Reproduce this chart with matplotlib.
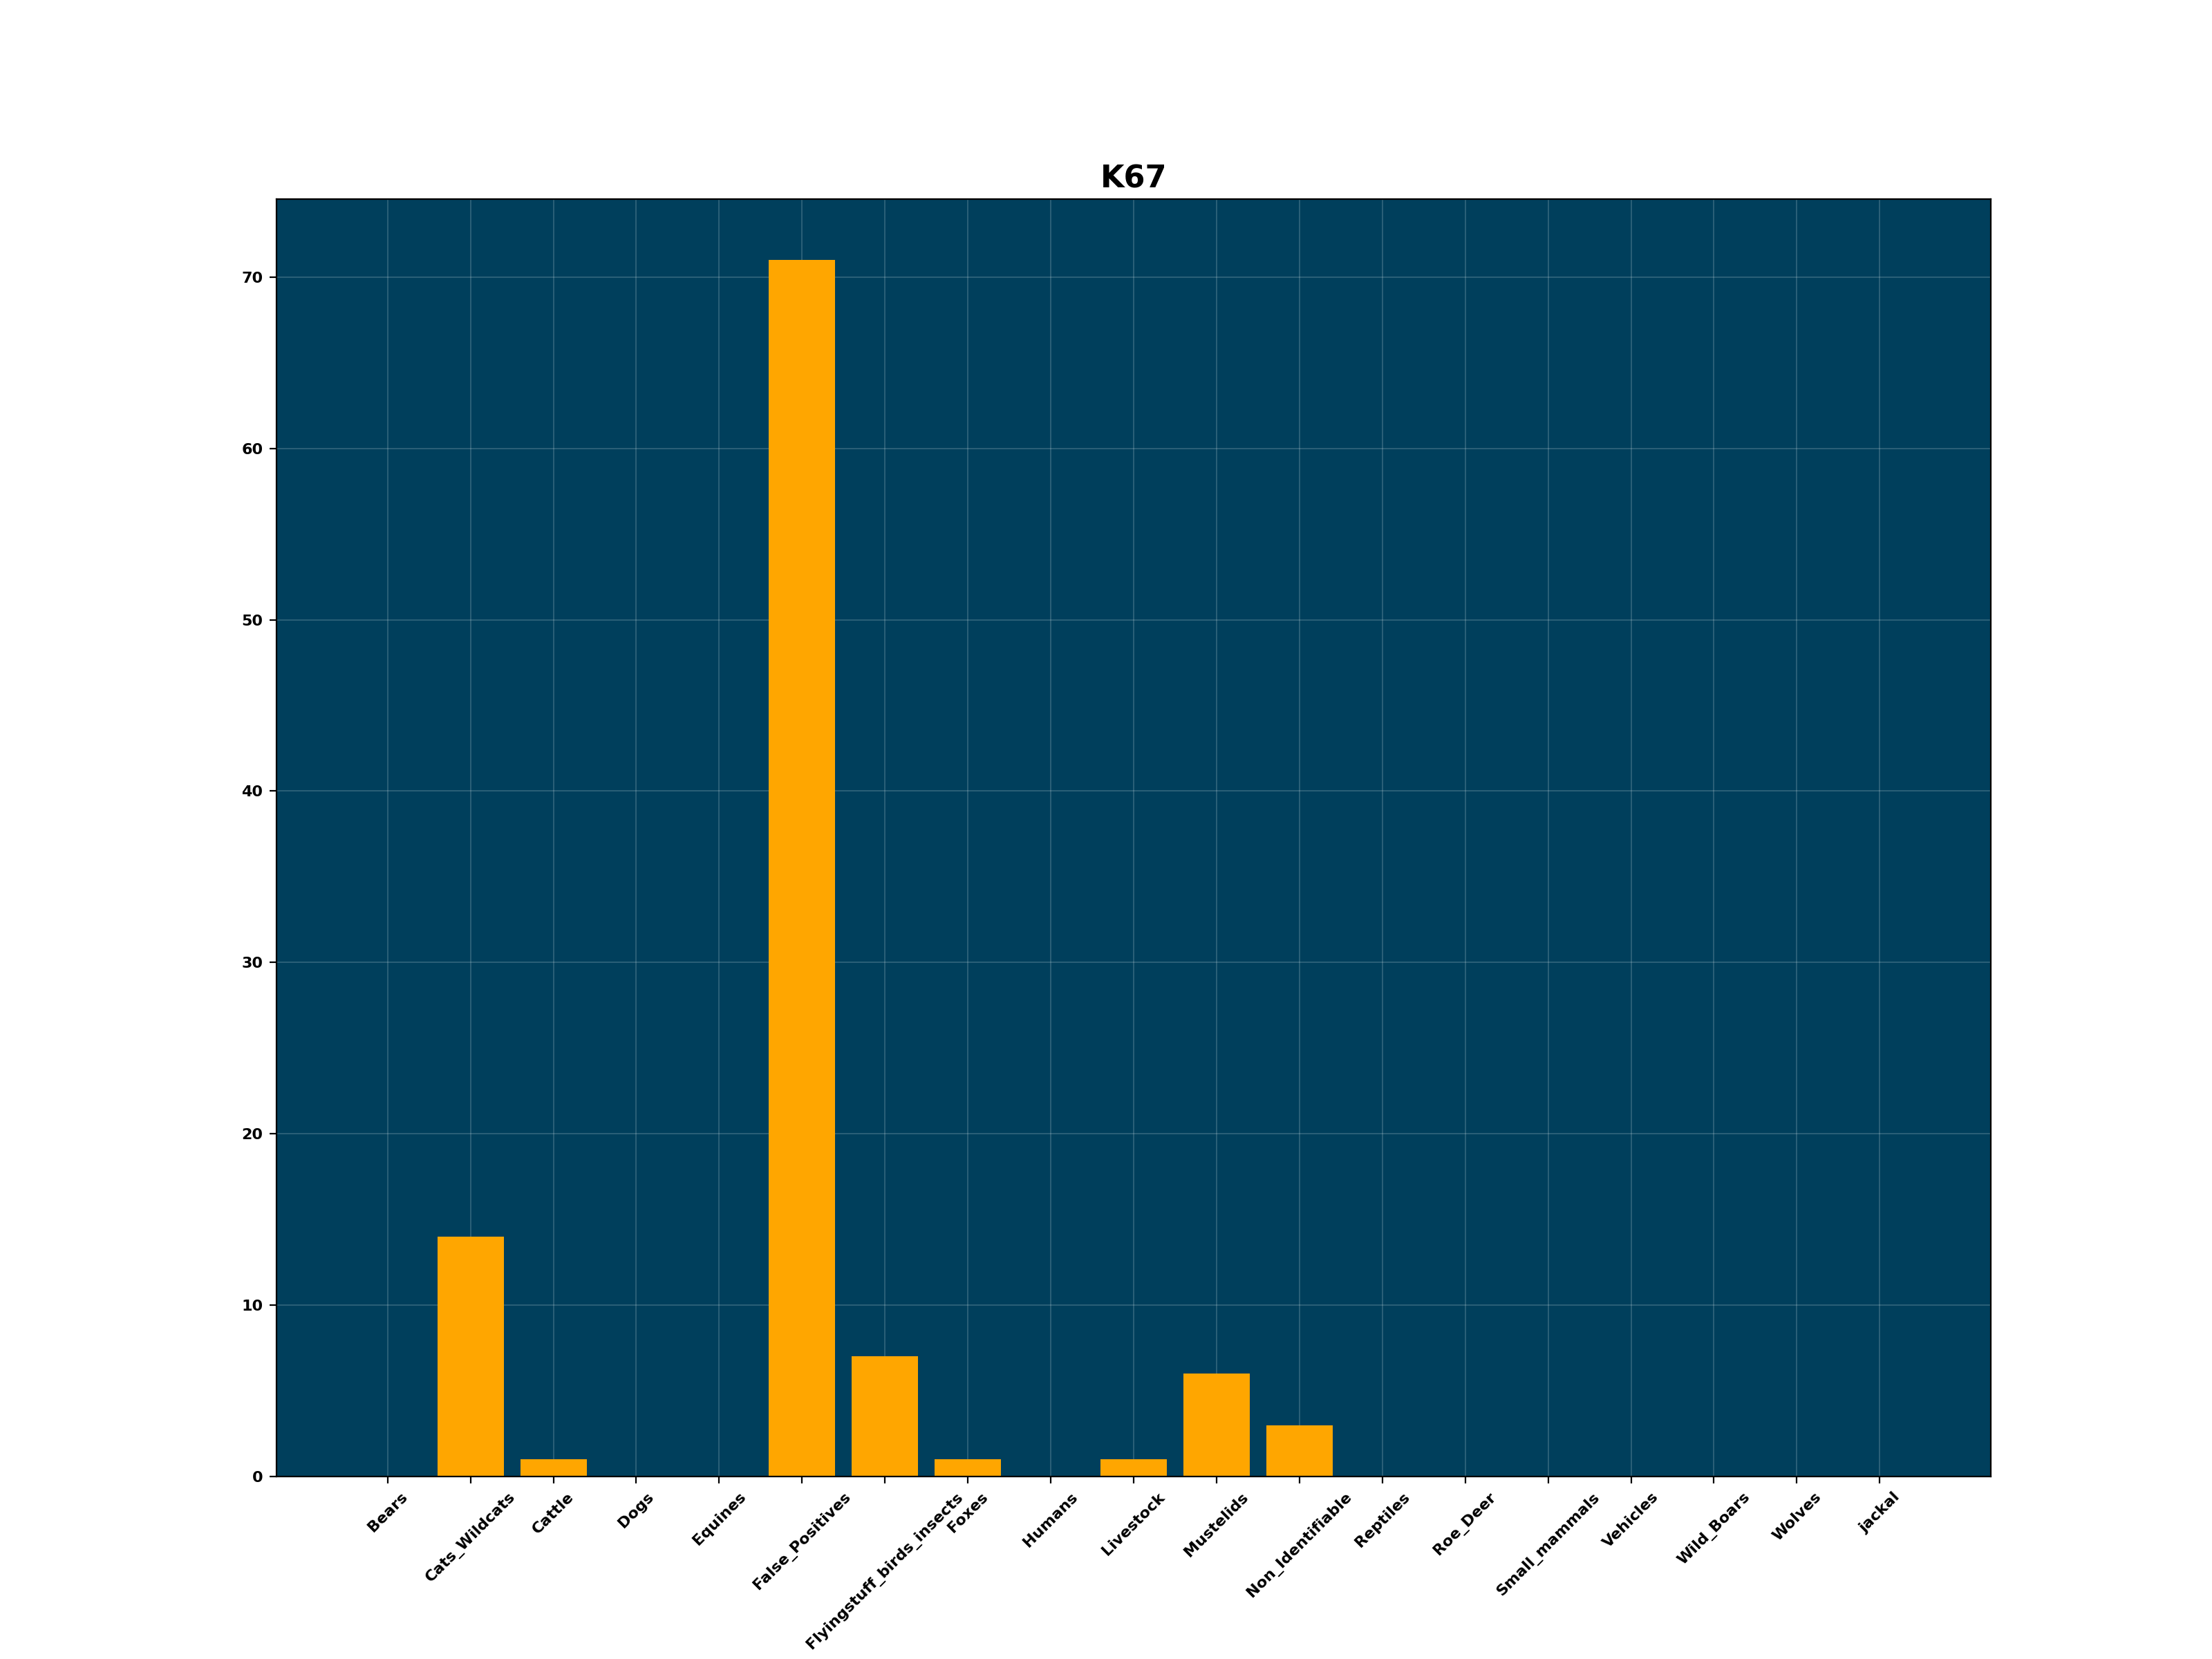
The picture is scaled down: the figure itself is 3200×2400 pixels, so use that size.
import matplotlib
matplotlib.use("Agg")
import matplotlib.pyplot as plt

categories = ['Bears', 'Cats_Wildcats', 'Cattle', 'Dogs', 'Equines',
              'False_Positives', 'Flyingstuff_birds_insects', 'Foxes', 'Humans',
              'Livestock', 'Mustelids', 'Non_Identifiable', 'Reptiles', 'Roe_Deer',
              'Small_mammals', 'Vehicles', 'Wild_Boars', 'Wolves', 'jackal']
counts = [0, 14, 1, 0, 0, 71, 7, 1, 0, 1, 6, 3, 0, 0, 0, 0, 0, 0, 0]
title = 'K67'

fig, ax = plt.subplots(figsize=(16, 12), dpi=200)
fig.subplots_adjust(left=0.125, right=0.9, bottom=0.11, top=0.88)

ax.set_facecolor('#003f5c')
ax.bar(categories, counts, color='#ffa600')
ax.set_axisbelow(True)
ax.grid(True, color='white', alpha=0.2, linewidth=0.6)

ax.set_title(title, fontsize=16, fontweight='bold')
plt.setp(ax.get_xticklabels(), rotation=45, fontsize=8, fontweight='bold')
plt.setp(ax.get_yticklabels(), fontsize=8, fontweight='bold')

fig.savefig('out.png', dpi=200)
